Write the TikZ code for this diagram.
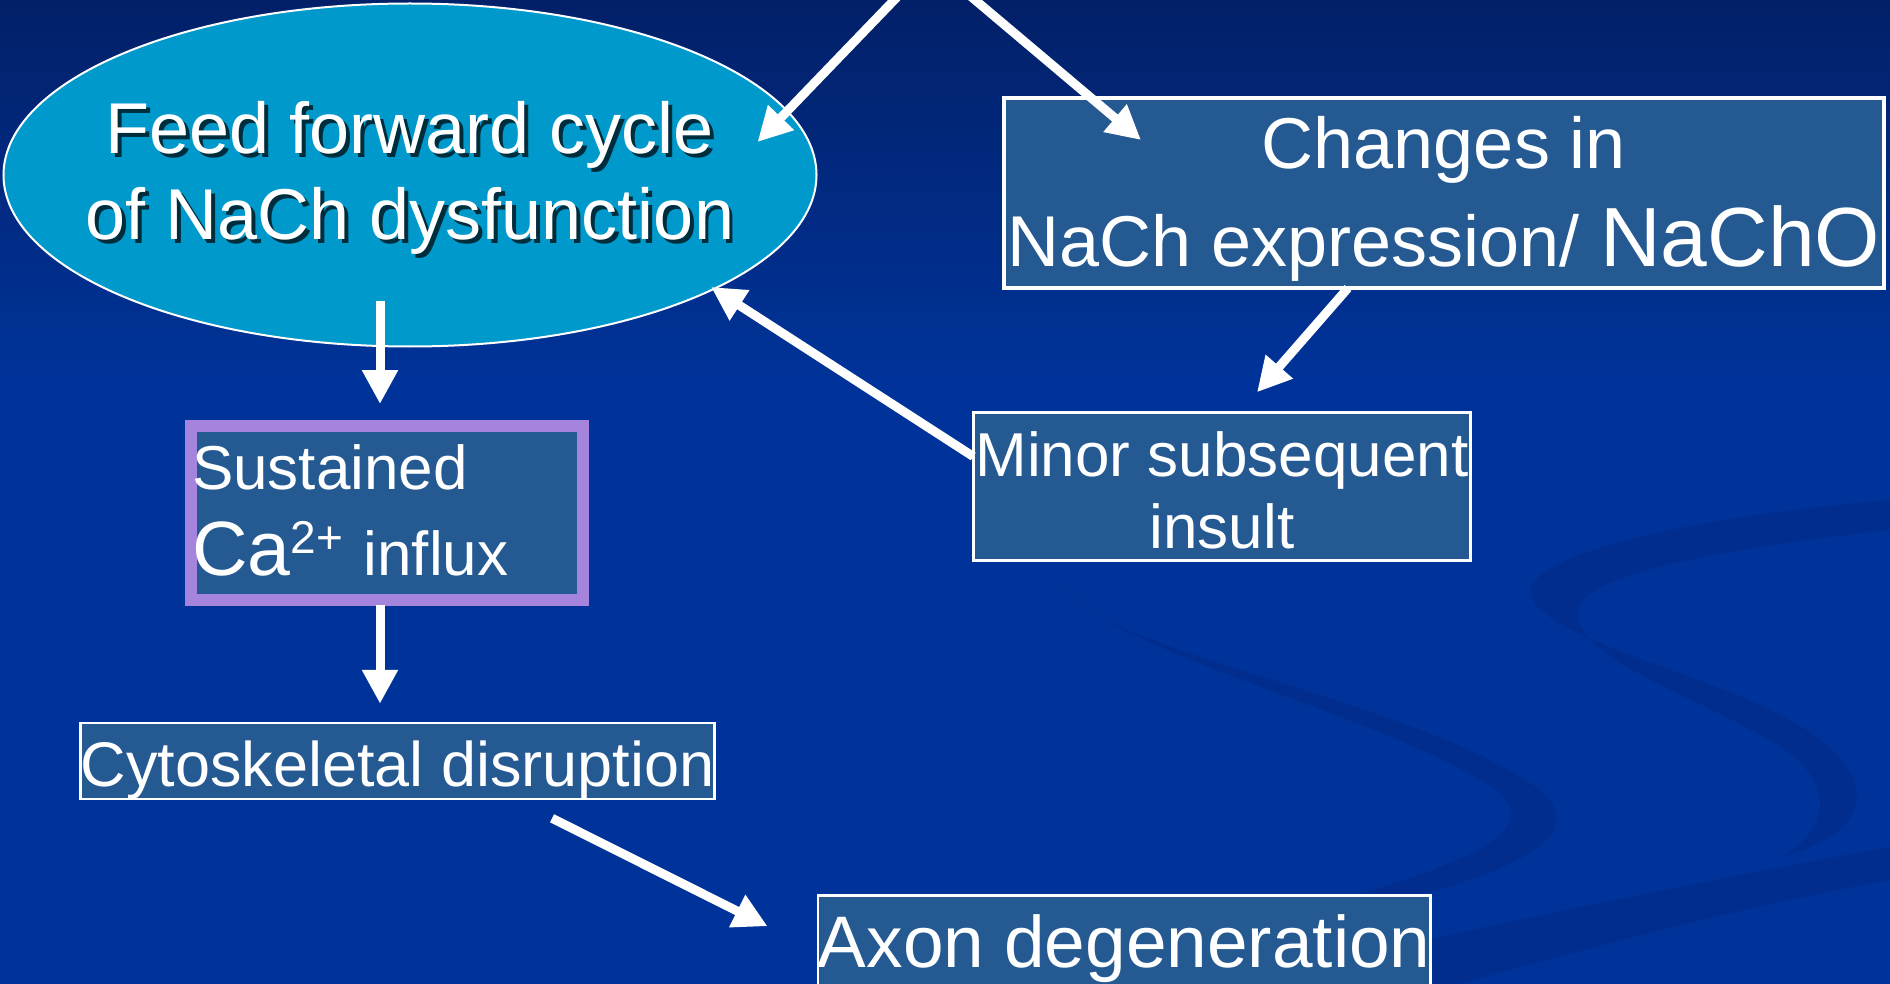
\documentclass[tikz,border=0pt]{standalone}
\usepackage{fontspec}
\setmainfont{Liberation Sans}
\usepackage{tikz}
\usetikzlibrary{arrows.meta,positioning,shapes.geometric,calc}
\definecolor{bgtop}{RGB}{2,32,104}
\definecolor{bgblue}{RGB}{0,51,153}
\definecolor{swirl}{RGB}{0,45,142}
\definecolor{boxblue}{RGB}{36,90,145}
\definecolor{cyclefill}{RGB}{0,153,204}
\definecolor{capurple}{RGB}{164,132,220}
\tikzset{
  box/.style={draw=white,fill=boxblue,text=white,inner sep=0pt,line width=2.5pt,align=center},
  flow/.style={white,line width=9pt,-{Triangle[length=34pt,width=34pt]}},
  big/.style={font=\fontsize{72}{86}\selectfont},
  mid/.style={font=\fontsize{62}{72}\selectfont},
}

\begin{document}
\begin{tikzpicture}[x=1pt,y=-1pt]
  \useasboundingbox (0,0) rectangle (1890,984);
  \fill[bgblue] (0,0) rectangle (1890,984);
  \shade[top color=bgtop,bottom color=bgblue] (0,0) rectangle (1890,380);
  \fill[swirl] (1890,500) .. controls (1700,515) and (1520,555) .. (1531,595) .. controls (1545,640) and (1700,670) .. (1790,720) .. controls (1880,770) and (1880,830) .. (1784,856)
    .. controls (1840,820) and (1830,770) .. (1760,735) .. controls (1680,690) and (1560,650) .. (1580,605) .. controls (1595,570) and (1750,545) .. (1890,530) -- cycle;
  \fill[swirl] (1064,585) .. controls (1090,650) and (1420,700) .. (1540,790) .. controls (1610,850) and (1450,900) .. (1210,935)
    .. controls (1420,880) and (1560,840) .. (1495,790) .. controls (1400,720) and (1100,650) .. (1064,585) -- cycle;
  \fill[swirl] (1890,847) .. controls (1650,890) and (1420,940) .. (1231,984) -- (1459,984) .. controls (1600,945) and (1750,905) .. (1890,880) -- cycle;

  \node[ellipse,draw=white,line width=2pt,fill=cyclefill,minimum width=813pt,minimum height=343pt,inner sep=0pt] (ffc) at (410,175) {};
  \node[big,text=black,text opacity=0.7,align=center] (ffcshadow) at ($(ffc.center)+(3.5,6.5)$) {Feed forward cycle\\of NaCh dysfunction};
  \node[big,text=white,align=center] (ffctext) at ($(ffc.center)+(0,3)$) {Feed forward cycle\\of NaCh dysfunction};

  \node[box,big,line width=4pt,minimum width=880pt,minimum height=190pt] (chg) at (1444,193)
    {\rule{0pt}{64pt}Changes in\\[12pt]NaCh expression/ {\fontsize{84}{90}\selectfont NaChO}};
  \node[box,mid,minimum width=497pt,minimum height=148pt] (mis) at (1222,486.5) {\rule{0pt}{53pt}Minor subsequent\\insult};
  \node[box,font=\fontsize{62}{86}\selectfont,draw=capurple,line width=12pt,minimum width=392pt,minimum height=174pt,text width=390pt,align=left] (sus) at (387,513)
    {Sustained\\{\fontsize{77}{86}\selectfont Ca}\raisebox{22pt}{\fontsize{46}{50}\selectfont 2+} influx\rule[-6pt]{0pt}{0pt}};
  \node[box,font=\fontsize{63}{72}\selectfont,text height=63pt,text depth=13pt,minimum width=630pt,minimum height=74pt] (cyt) at (397.5,761) {Cytoskeletal disruption};
  \node[box,font=\fontsize{73}{86}\selectfont,text height=52pt,text depth=18pt,minimum width=612pt,minimum height=110pt] (axd) at (1124.25,950.25) {Axon degeneration};

  \coordinate (srcL) at (900,-6);
  \coordinate (srcR) at (968,-6);
  \draw[flow] (srcL) -- ($(ffc.east)+(-60,-33)$);
  \draw[flow] (srcR) -- ($(chg.north west)+(139,44)$);
  \draw[flow] ($(ffc.south)+(-30,-46)$) -- ($(sus.north)+(-7,-16)$);
  \draw[flow] ($(sus.south)+(-7,-1)$) -- ($(cyt.north)+(-17.5,-18)$);
  \draw[flow] ($(cyt.south)+(154.5,18)$) -- ($(axd.west)+(-49,-24)$);
  \draw[flow] ($(chg.south)+(-96,-2)$) -- ($(mis.north)+(35,-19)$);
  \draw[flow] ($(mis.west)+(1,-30)$) -- ($(ffc.center)+(301,112)$);
\end{tikzpicture}
\end{document}
